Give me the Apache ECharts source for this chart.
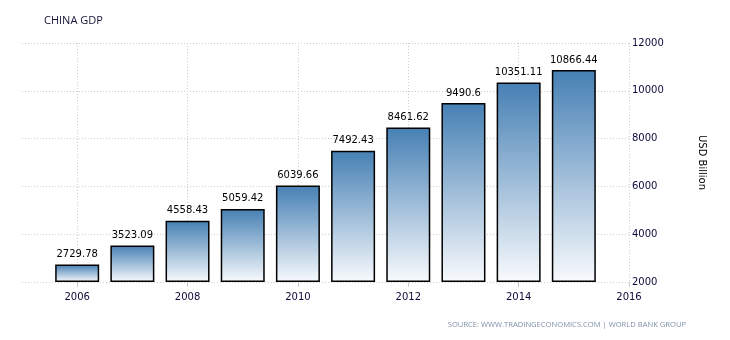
<!DOCTYPE html>
<html>
<head>
<meta charset="utf-8">
<script src="https://cdn.jsdelivr.net/npm/echarts@6/dist/echarts.min.js"></script>
<style>
html,body{margin:0;padding:0;background:#fff;}
#chart{width:730px;height:340px;}
</style>
</head>
<body>
<div id="chart"></div>
<script>
// Data
const years = [2006, 2007, 2008, 2009, 2010, 2011, 2012, 2013, 2014, 2015];
const gdp = [2729.78, 3523.09, 4558.43, 5059.42, 6039.66, 7492.43, 8461.62, 9490.6, 10351.11, 10866.44];
const yTicks = { min: 2000, max: 12000, interval: 2000 };
const title = 'CHINA GDP';
const unit = 'USD Billion';
const source = 'SOURCE: WWW.TRADINGECONOMICS.COM | WORLD BANK GROUP';

// axis spans one year either side of the data
const axisCats = [String(years[0] - 1)].concat(years.map(String), [String(years[years.length - 1] + 1)]);
const barData = [null].concat(gdp, [null]);
const showEven = (i, v) => Number(v) % 2 === 0;

const chart = echarts.init(document.getElementById('chart'), null, { renderer: 'canvas' });
chart.setOption({
  animation: false,
  backgroundColor: '#ffffff',
  title: {
    text: title,
    left: 39, top: 10,
    textStyle: { fontFamily: 'Open Sans', fontSize: 11, fontWeight: 'normal', color: '#141438' }
  },
  graphic: [{
    type: 'text',
    right: 44, top: 321,
    style: { text: source, fontFamily: 'Open Sans', fontSize: 7.6, fill: '#7f91a8' }
  }],
  grid: { left: 22, right: 101, top: 43, bottom: 58, containLabel: false },
  xAxis: {
    type: 'category',
    data: axisCats,
    boundaryGap: false,
    axisLine: { show: false },
    axisTick: { show: true, interval: showEven, length: 5, lineStyle: { color: '#cccccc' } },
    axisLabel: { interval: showEven, margin: 10, fontFamily: 'DejaVu Sans', fontSize: 10, color: '#0b0b3a' },
    splitLine: { show: true, interval: showEven, lineStyle: { color: '#cccccc', type: [1, 2], width: 1 } }
  },
  yAxis: {
    type: 'value',
    position: 'right',
    min: yTicks.min, max: yTicks.max, interval: yTicks.interval,
    startValue: yTicks.min,
    name: unit,
    nameLocation: 'middle',
    nameRotate: -90,
    nameGap: 68,
    nameTextStyle: { fontFamily: 'DejaVu Sans', fontSize: 10, color: '#000000' },
    axisLine: { show: false },
    axisTick: { show: false },
    axisLabel: { margin: 3, fontFamily: 'DejaVu Sans', fontSize: 10, color: '#0b0b3a', formatter: v => String(v) },
    splitLine: { show: true, lineStyle: { color: '#cccccc', type: [1, 2], width: 1 } }
  },
  series: [{
    type: 'bar',
    data: barData,
    barWidth: 44,
    itemStyle: {
      color: new echarts.graphic.LinearGradient(0, 0, 0, 1, [
        { offset: 0, color: '#4680b4' },
        { offset: 1, color: '#f8fafd' }
      ]),
      borderColor: '#000000',
      borderWidth: 1.5,
      borderRadius: 0
    },
    label: {
      show: true,
      position: 'top',
      distance: 5,
      fontFamily: 'DejaVu Sans',
      fontSize: 10,
      color: '#000000',
      formatter: p => String(p.value)
    }
  }]
});
</script>
</body>
</html>
